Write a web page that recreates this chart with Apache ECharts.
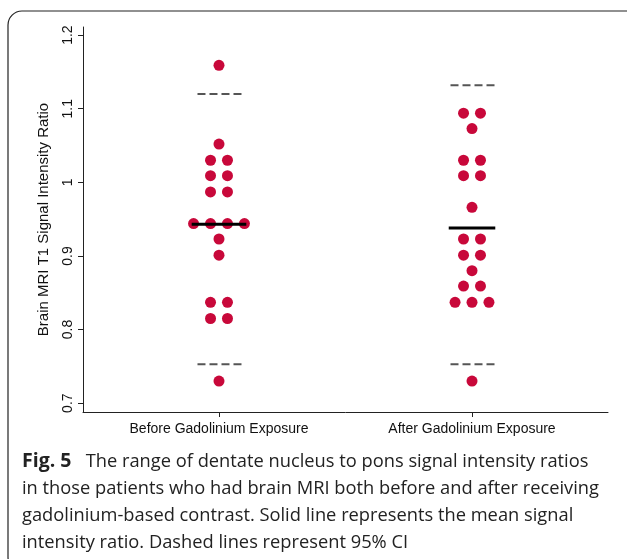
<!DOCTYPE html>
<html lang="en">
<head>
    <meta charset="UTF-8">
    <title>Fig. 5</title>
    <style type="text/css">
        body{margin:0;background:#fff;}
        #main{width:627px;height:559px;}
    </style>
</head>
<body>
<div id="main"></div>
<script src="https://cdn.jsdelivr.net/npm/echarts@6.0.0/dist/echarts.min.js"></script>
<script>
    // groups on the x axis (1 = before, 2 = after)
    var groups = ['Before Gadolinium Exposure', 'After Gadolinium Exposure'];
    var yTicks = [0.7, 0.8, 0.9, 1, 1.1, 1.2];

    // individual ratios
    var beforeVals = [1.159, 1.052, 1.030, 1.030, 1.009, 1.009, 0.987, 0.987,
        0.944, 0.944, 0.944, 0.944, 0.923, 0.901, 0.837, 0.837, 0.815, 0.815, 0.730];
    var afterVals = [1.094, 1.094, 1.073, 1.030, 1.030, 1.009, 1.009, 0.966,
        0.923, 0.923, 0.901, 0.901, 0.880, 0.859, 0.859, 0.837, 0.837, 0.837, 0.730];

    // mean and 95% CI (lower, upper)
    var means = [0.943, 0.938];
    var ciLow = [0.753, 0.753];
    var ciHigh = [1.120, 1.132];

    var dotStep = 0.067;   // horizontal gap between tied dots

    // spread equal values side by side, like a dot plot
    function dots(vals, center) {
        var count = {}, seen = {}, out = [];
        vals.forEach(function (v) { count[v] = (count[v] || 0) + 1; });
        vals.forEach(function (v) {
            var i = seen[v] || 0;
            seen[v] = i + 1;
            out.push([center + (i - (count[v] - 1) / 2) * dotStep, v]);
        });
        return out;
    }

    function hline(center, half, y) {
        return [[center - half, y], [center + half, y]];
    }

    var series = [];
    [beforeVals, afterVals].forEach(function (vals, g) {
        var c = g + 1;
        series.push({
            type: 'scatter',
            symbolSize: 11,
            itemStyle: {color: '#c8083a', opacity: 1},
            data: dots(vals, c),
            z: 3
        });
        series.push({
            type: 'line', symbol: 'none', silent: true,
            lineStyle: {color: '#000', width: 3},
            data: hline(c, g === 0 ? 0.108 : 0.092, means[g]),
            z: 4
        });
        [ciLow[g], ciHigh[g]].forEach(function (y) {
            series.push({
                type: 'line', symbol: 'none', silent: true,
                lineStyle: {color: '#555', width: 2, type: [8, 4]},
                data: hline(c + 0.005, 0.09, y),
                z: 2
            });
        });
    });

    var myChart = echarts.init(document.getElementById('main'));
    var option = {
        animation: false,
        grid: {left: 83, right: 19, top: 27, bottom: 147},
        xAxis: {
            type: 'value',
            min: 0.4625,
            max: 2.5375,
            splitLine: {show: false},
            axisLine: {lineStyle: {color: '#222', width: 1}},
            axisTick: {customValues: [1, 2], length: 5, lineStyle: {color: '#222'}},
            axisLabel: {
                customValues: [1, 2],
                color: '#111',
                fontFamily: 'Liberation Sans',
                fontSize: 14,
                margin: 10,
                formatter: function (v) { return groups[Math.round(v) - 1]; }
            }
        },
        yAxis: {
            type: 'value',
            min: 0.688,
            max: 1.211,
            name: 'Brain MRI T1 Signal Intensity Ratio',
            nameLocation: 'middle',
            nameGap: 32,
            nameTextStyle: {color: '#111', fontFamily: 'Liberation Sans', fontSize: 15},
            splitLine: {show: false},
            axisLine: {show: true, lineStyle: {color: '#222', width: 1}},
            axisTick: {show: true, customValues: yTicks, length: 5, lineStyle: {color: '#222'}},
            axisLabel: {
                customValues: yTicks,
                rotate: 90,
                color: '#111',
                fontFamily: 'Liberation Sans',
                fontSize: 14,
                margin: 8,
                formatter: function (v) { return String(Math.round(v * 10) / 10); }
            }
        },
        graphic: [
            {
                type: 'rect',
                shape: {x: 8, y: 11, width: 640, height: 560, r: 14},
                style: {fill: 'none', stroke: '#222', lineWidth: 1.2},
                z: -1
            },
            {
                type: 'text',
                left: 22,
                top: 448,
                style: {
                    text: '{b|Fig. 5}   The range of dentate nucleus to pons signal intensity ratios\n' +
                        'in those patients who had brain MRI both before and after receiving\n' +
                        'gadolinium-based contrast. Solid line represents the mean signal\n' +
                        'intensity ratio. Dashed lines represent 95% CI',
                    fill: '#222',
                    fontFamily: 'Open Sans',
                    fontSize: 18.3,
                    lineHeight: 27,
                    rich: {
                        b: {fontWeight: 'bold', fontFamily: 'Open Sans', fontSize: 19.5, lineHeight: 27, fill: '#222'}
                    }
                }
            }
        ],
        series: series
    };
    myChart.setOption(option);
</script>
</body>
</html>
